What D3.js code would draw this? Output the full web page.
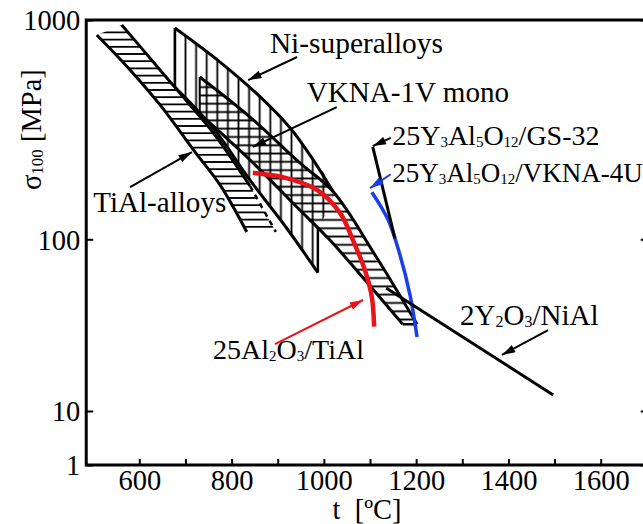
<!DOCTYPE html>
<html><head><meta charset="utf-8">
<script src="https://cdn.jsdelivr.net/npm/d3@7"></script>
<style>body{margin:0;background:#fff}svg{display:block}text{font-family:"Liberation Serif","Times New Roman",serif;fill:#000}</style>
</head><body><svg id="c" width="643" height="524"></svg>
<script>
// ---------- data ----------
const xTickValues = [600,700,800,900,1000,1100,1200,1300,1400,1500,1600];
const xTickLabels = [600,800,1000,1200,1400,1600];
const yTickValues = [1,10,100,1000];

// [t (°C), sigma100 (MPa)]
const tialLower = [[508,854],[580,592],[645,410],[721,250],[775,177],[833,108]];
const tialUpper = [[562,949],[645,592],[710,410],[764,299],[840,175]];
const tialUpperDashed = [[840,175],[896,108]];
const niUpper = [[677,919],[775,643],[862,446],[927,322],[970,242],[1020,165]];
const niRight = [[987,113]];
const niLower = [[677,495],[760,322],[840,186],[916,115],[987,64]];
const vknaUpper = [[731,550],[840,361],[948,223],[1020,165],[1111,81],[1202,32]];
const vknaLower = [[731,373],[840,230],[942,140],[1013,99],[1089,58],[1171,32]];
const al2o3TiAl = [[846,201],[911,192],[985,168],[1035,132],[1063,99],[1089,66],[1104,46],[1109,31]];
const yagVKNA4U = [[1104,164],[1139,123],[1165,81],[1187,47],[1202,27]];
const yagGS32 = [[1106,264],[1154,101]];
const y2o3NiAl = [[1135,52],[1497,12.4]];

// annotation labels: parts [text, subscript?]
const annLabels = [
  {parts:[["Ni-superalloys"]], at:[883,707], tail:[942,678], tip:[836,532], color:"#000", size:29.4},
  {parts:[["VKNA-1V mono"]], at:[963,423], tail:[1028,401], tip:[846,264], color:"#000", size:29.1},
  {parts:[["TiAl-alloys"]], at:[500,133], tail:[580,173], tip:[714,250], color:"#000", size:29.1},
  {parts:[["25Al"],["2",1],["O"],["3",1],["/TiAl"]], at:[760,20.1], tail:[894,24.5], tip:[1085,44.3], color:"#e8141c", size:28},
  {parts:[["25Y"],["3",1],["Al"],["5",1],["O"],["12",1],["/GS-32"]], at:[1148,269], tail:[1145,290], tip:[1106,266], color:"#000", size:28},
  {parts:[["25Y"],["3",1],["Al"],["5",1],["O"],["12",1],["/VKNA-4U"]], at:[1148,182.5], tail:[1145,198], tip:[1100,171], color:"#1a3ee8", size:27},
  {parts:[["2Y"],["2",1],["O"],["3",1],["/NiAl"]], at:[1295,31.7], tail:[1486,29.6], tip:[1386,21.2], color:"#000", size:29}
];

// ---------- scales ----------
const svg = d3.select("#c");
const x = d3.scaleLinear().domain([600,1600]).range([139.3,600.7]);
const y = d3.scaleLog().domain([1,10,100,1000]).range([465,411,239.3,20]);
const X0 = x(485), X1 = x(1702), Y0 = y(1), Y1 = y(1000);

const defs = svg.append("defs");
function hatch(id, w, h, horiz, sw){
  const p = defs.append("pattern").attr("id",id).attr("patternUnits","userSpaceOnUse").attr("width",w).attr("height",h);
  if(horiz) p.append("line").attr("x1",0).attr("x2",w).attr("y1",h/2).attr("y2",h/2).attr("stroke","#000").attr("stroke-width",sw);
  else p.append("line").attr("y1",0).attr("y2",h).attr("x1",w/2).attr("x2",w/2).attr("stroke","#000").attr("stroke-width",sw);
}
hatch("hTi",40,7.2,true,1.8);
hatch("hVk",40,8.3,true,1.8);
hatch("vNi",10.6,40,false,1.8);
function marker(id,color){
  defs.append("marker").attr("id",id).attr("viewBox","0 0 10 6").attr("refX",10).attr("refY",3)
    .attr("markerUnits","userSpaceOnUse").attr("markerWidth",14).attr("markerHeight",8).attr("orient","auto")
    .append("path").attr("d","M0,0L10,3L0,6Z").attr("fill",color);
}
marker("mk","#000"); marker("mr","#e8141c"); marker("mb","#1a3ee8");

const cr = d3.line().x(d=>x(d[0])).y(d=>y(d[1])).curve(d3.curveCatmullRom.alpha(0.5));
const lin = d3.line().x(d=>x(d[0])).y(d=>y(d[1]));
function band(a,b){ const p1 = cr(a), p2 = cr(b.slice().reverse()); return p1 + "L" + p2.slice(1) + "Z"; }

const g = svg.append("g");
// hatched fills
g.append("path").attr("d", band(niUpper.concat(niRight), niLower)).attr("fill","url(#vNi)");
g.append("path").attr("d", band(vknaUpper, vknaLower)).attr("fill","url(#hVk)");
g.append("path").attr("d", band(tialLower, tialUpper.concat([tialUpperDashed[1]]))).attr("fill","url(#hTi)");

// outlines
const bw = 3;
[tialLower, tialUpper, niUpper, niLower, vknaUpper, vknaLower].forEach(d=>{
  g.append("path").attr("d",cr(d)).attr("fill","none").attr("stroke","#000").attr("stroke-width",bw);
});
g.append("path").attr("d",lin(tialUpperDashed)).attr("fill","none").attr("stroke","#000").attr("stroke-width",2.5).attr("stroke-dasharray","5,5");
g.append("path").attr("d",lin([niUpper[0],niLower[0]])).attr("stroke","#000").attr("stroke-width",2.5);
g.append("path").attr("d",lin([niRight[0],niLower[niLower.length-1]])).attr("stroke","#000").attr("stroke-width",2.5);
g.append("path").attr("d",lin([vknaUpper[0],vknaLower[0]])).attr("stroke","#000").attr("stroke-width",2);
g.append("path").attr("d",lin([vknaUpper[vknaUpper.length-1],vknaLower[vknaLower.length-1]])).attr("stroke","#000").attr("stroke-width",2.5);

// series lines
g.append("path").attr("d",cr(al2o3TiAl)).attr("fill","none").attr("stroke","#e8141c").attr("stroke-width",4.5).attr("stroke-linecap","butt");
g.append("path").attr("d",cr(yagVKNA4U)).attr("fill","none").attr("stroke","#1a3ee8").attr("stroke-width",3.5);
g.append("path").attr("d",lin(yagGS32)).attr("fill","none").attr("stroke","#000").attr("stroke-width",3);
g.append("path").attr("d",lin(y2o3NiAl)).attr("fill","none").attr("stroke","#000").attr("stroke-width",3);

// frame
svg.append("path").attr("d",`M${X0},${Y1}V${Y0}H${X1}V${Y1}Z`).attr("fill","none").attr("stroke","#000").attr("stroke-width",3);

// axes
const xAxis = d3.axisBottom(x).tickValues(xTickValues).tickSizeInner(-6).tickSizeOuter(0)
  .tickFormat(d=> xTickLabels.includes(d) ? d : "");
const xg = svg.append("g").attr("transform",`translate(0,${Y0})`).call(xAxis);
xg.select(".domain").remove();
xg.selectAll("line").attr("stroke","#000").attr("stroke-width",2);
xg.selectAll("text").attr("font-size",28.5).attr("font-family","Liberation Serif").attr("fill","#000").attr("dy",null).attr("y",25);

const yAxis = d3.axisLeft(y).tickValues(yTickValues).tickSizeInner(-7).tickSizeOuter(0).tickFormat(d=>d);
const yg = svg.append("g").attr("transform",`translate(${X0},0)`).call(yAxis);
yg.select(".domain").remove();
yg.selectAll("line").attr("stroke","#000").attr("stroke-width",2);
yg.selectAll("text").attr("font-size",28.5).attr("font-family","Liberation Serif").attr("fill","#000").attr("x",-6).attr("dy","0.34em");

const yAxisR = d3.axisRight(y).tickValues(yTickValues).tickSizeInner(-7).tickSizeOuter(0).tickFormat("");
const yr = svg.append("g").attr("transform",`translate(${X1},0)`).call(yAxisR);
yr.select(".domain").remove();
yr.selectAll("line").attr("stroke","#000").attr("stroke-width",2);

// axis titles
svg.append("text").attr("x",367).attr("y",519).attr("text-anchor","middle").attr("font-size",28.5).text("t\u00A0\u00A0[ºC]");
const yt = svg.append("text").attr("transform",`translate(41,${(y(1000)+y(100))/2 + 0}) rotate(-90)`).attr("text-anchor","middle").attr("font-size",28.5);
yt.append("tspan").text("σ");
yt.append("tspan").attr("font-size",17).attr("dy",2).text("100");
yt.append("tspan").attr("dy",-2).text(" [MPa]");

// annotations
annLabels.forEach(a=>{
  const mk = a.color==="#000" ? "mk" : (a.color==="#e8141c" ? "mr" : "mb");
  svg.append("line").attr("x1",x(a.tail[0])).attr("y1",y(a.tail[1])).attr("x2",x(a.tip[0])).attr("y2",y(a.tip[1]))
    .attr("stroke",a.color).attr("stroke-width",2).attr("marker-end",`url(#${mk})`);
  const t = svg.append("text").attr("x",x(a.at[0])).attr("y",y(a.at[1])).attr("font-size",a.size);
  const ss = Math.round(a.size*0.55);
  let sub=false;
  a.parts.forEach(p=>{
    const s = t.append("tspan").text(p[0]);
    if(p[1] && !sub){ s.attr("font-size",ss).attr("dy",2); sub=true; }
    else if(!p[1] && sub){ s.attr("dy",-2); sub=false; }
    else if(p[1]) s.attr("font-size",ss);
  });
});
</script></body></html>
